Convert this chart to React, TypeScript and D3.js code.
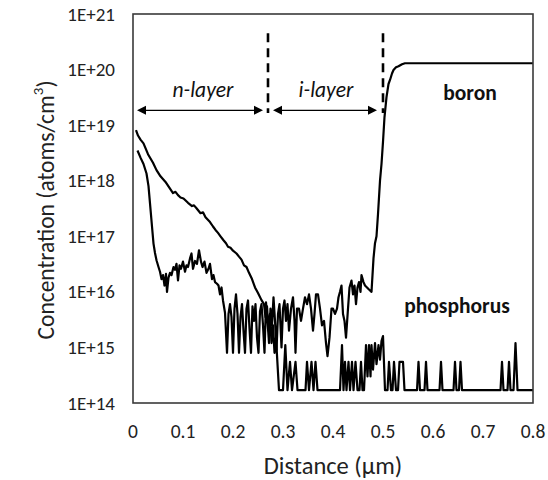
import React from "react";
import * as d3 from "d3";

// ---- data ----
const xTicks = [0, 0.1, 0.2, 0.3, 0.4, 0.5, 0.6, 0.7, 0.8];
const xTickLabels = ["0", "0.1", "0.2", "0.3", "0.4", "0.5", "0.6", "0.7", "0.8"];
const yTicks = [1e14, 1e15, 1e16, 1e17, 1e18, 1e19, 1e20, 1e21];
const yTickLabels = ["1E+14", "1E+15", "1E+16", "1E+17", "1E+18", "1E+19", "1E+20", "1E+21"];

const F = 1.7e14; // detection floor for phosphorus

const phosphorus: [number, number][] = [
  [0.006, 8.1e18], [0.010, 6.5e18], [0.015, 5.5e18], [0.021, 4.7e18], [0.030, 3.0e18],
  [0.040, 2.1e18], [0.047, 1.55e18], [0.055, 1.2e18], [0.065, 9.5e17], [0.074, 7.2e17],
  [0.080, 6.0e17], [0.085, 6.3e17], [0.090, 5.5e17], [0.095, 5.0e17], [0.101, 4.8e17],
  [0.110, 4.0e17], [0.118, 3.5e17], [0.122, 3.6e17], [0.127, 3.2e17], [0.135, 2.6e17],
  [0.140, 2.7e17], [0.145, 2.2e17], [0.154, 1.8e17], [0.160, 1.5e17], [0.165, 1.3e17],
  [0.170, 1.15e17], [0.175, 1.0e17], [0.181, 8.5e16], [0.186, 7.5e16], [0.190, 6.5e16],
  [0.195, 6.2e16], [0.200, 5.5e16], [0.207, 4.9e16], [0.212, 4.3e16], [0.217, 3.8e16],
  [0.222, 3.0e16], [0.227, 2.8e16], [0.232, 2.2e16], [0.238, 1.7e16], [0.244, 1.2e16],
  [0.250, 9.5e15], [0.257, 7.1e15], [0.262, 6.0e15], [0.265, 3.5e15], [0.268, 5.5e15],
  [0.271, 2.0e15], [0.274, 4.0e15], [0.277, 1.2e15], [0.280, 2.5e15], [0.283, 8e14],
  [0.286, 1.5e15], [0.289, 5e14], [0.292, F], [0.300, F], [0.3046, 1.1e15], [0.309, F],
  [0.314, 5.5e14], [0.318, F], [0.325, 5.5e14], [0.329, F], [0.345, F], [0.348, 5.5e14],
  [0.352, F], [0.357, 5.5e14], [0.361, F], [0.365, 5.5e14], [0.369, F], [0.414, F],
  [0.418, 1.1e15], [0.421, F], [0.424, 5.5e14], [0.427, F], [0.431, 5.5e14], [0.434, F],
  [0.438, 5.5e14], [0.441, F], [0.445, 5.5e14], [0.449, F], [0.453, F], [0.456, 5.5e14],
  [0.459, F], [0.462, F], [0.466, 1.1e15], [0.469, 3e14], [0.472, 1.1e15], [0.475, 3e14],
  [0.477, 1.1e15], [0.480, 4e14], [0.484, 1.2e15], [0.487, 5e14], [0.491, 1.1e15],
  [0.494, 6e14], [0.497, 1.3e15], [0.500, 1.6e15], [0.504, F], [0.509, F], [0.512, 5.5e14],
  [0.516, F], [0.519, F], [0.522, 5.5e14], [0.526, F], [0.530, F], [0.533, 5.5e14],
  [0.540, 5.5e14], [0.543, F], [0.568, F], [0.571, 5.5e14], [0.574, F], [0.583, F],
  [0.586, 5.5e14], [0.589, F], [0.613, F], [0.616, 5.5e14], [0.619, F], [0.641, F],
  [0.644, 5.5e14], [0.647, F], [0.652, F], [0.655, 5.5e14], [0.658, F], [0.735, F],
  [0.738, 5.5e14], [0.741, F], [0.749, F], [0.752, 5.5e14], [0.755, F], [0.761, F],
  [0.765, 1.2e15], [0.769, F], [0.800, F],
];

const boron: [number, number][] = [
  [0.009, 3.5e18], [0.015, 2.6e18], [0.021, 2.0e18], [0.027, 1.35e18], [0.031, 8e17],
  [0.034, 3.9e17], [0.038, 1.5e17], [0.041, 7.4e16], [0.044, 5.0e16], [0.047, 3.7e16],
  [0.051, 2.8e16], [0.054, 2.3e16], [0.057, 1.7e16], [0.060, 2.0e16], [0.063, 1.3e16],
  [0.066, 2.1e16], [0.068, 1.0e16], [0.071, 1.8e16], [0.074, 2.2e16], [0.077, 2.0e16],
  [0.081, 2.8e16], [0.084, 2.5e16], [0.087, 3.2e16], [0.090, 1.6e16], [0.093, 3.0e16],
  [0.096, 2.6e16], [0.100, 3.5e16], [0.104, 2.3e16], [0.107, 3.0e16], [0.110, 2.8e16],
  [0.114, 4.0e16], [0.117, 4.9e16], [0.120, 2.6e16], [0.124, 3.6e16], [0.128, 3.2e16],
  [0.132, 5.6e16], [0.136, 3.5e16], [0.139, 2.8e16], [0.143, 3.5e16], [0.147, 2.2e16],
  [0.151, 2.6e16], [0.154, 3.2e16], [0.158, 1.7e16], [0.161, 2.0e16], [0.164, 1.5e16],
  [0.168, 1.4e16], [0.171, 1.3e16], [0.174, 9e15], [0.177, 1.2e16], [0.180, 7e15],
  [0.184, 4.2e15], [0.188, 8e14], [0.191, 4e15], [0.194, 6e15], [0.197, 3.5e15],
  [0.200, 8e14], [0.203, 5e15], [0.206, 9e15], [0.209, 4e15], [0.212, 8e14],
  [0.215, 3.5e15], [0.218, 6e15], [0.221, 2e15], [0.224, 8e14], [0.227, 5e15],
  [0.230, 7e15], [0.233, 2.2e15], [0.236, 8e14], [0.239, 5.5e15], [0.242, 3e15],
  [0.245, 6e15], [0.248, 1.5e15], [0.251, 8e14], [0.254, 4.5e15], [0.257, 6e15],
  [0.260, 2.5e15], [0.263, 8e14], [0.266, 6.5e15], [0.269, 3e15], [0.272, 1.2e15],
  [0.275, 5e15], [0.278, 2.5e15], [0.281, 8e15], [0.284, 3e15], [0.287, 9e14],
  [0.290, 4e15], [0.293, 6e15], [0.297, 1.0e15], [0.300, 5e15], [0.303, 7e15],
  [0.306, 3e15], [0.309, 6e15], [0.312, 2e15], [0.316, 5e15], [0.320, 8e15],
  [0.323, 3e15], [0.325, 8e14], [0.328, 5e15], [0.332, 5e15], [0.336, 3e15],
  [0.340, 5e15], [0.344, 8e15], [0.348, 6e15], [0.352, 9e15], [0.356, 5e15],
  [0.360, 2e15], [0.363, 4e15], [0.366, 9e15], [0.370, 9e15], [0.374, 5e15],
  [0.378, 2.5e15], [0.382, 3e15], [0.386, 1.2e15], [0.389, 7e14], [0.393, 1.5e15],
  [0.397, 5e15], [0.400, 5e15], [0.404, 4e15], [0.408, 5e15], [0.411, 8e15],
  [0.414, 1.0e16], [0.417, 1.3e16], [0.420, 4e15], [0.423, 3e15], [0.426, 1.5e15],
  [0.430, 5e15], [0.433, 1.2e16], [0.437, 1.6e16], [0.440, 9e15], [0.443, 1.3e16],
  [0.446, 6e15], [0.449, 1.2e16], [0.452, 1.5e16], [0.455, 1.0e16], [0.457, 2.0e16],
  [0.461, 1.5e16], [0.464, 1.3e16], [0.468, 1.2e16], [0.472, 1.1e16], [0.477, 1.0e16],
  [0.481, 4.0e16], [0.484, 7.5e16], [0.487, 1.0e17], [0.490, 2.5e17], [0.494, 1.0e18],
  [0.497, 2.0e18], [0.500, 5e18], [0.503, 1.4e19], [0.507, 3.2e19], [0.511, 5.5e19],
  [0.514, 6.5e19], [0.518, 8.5e19], [0.521, 9.8e19], [0.526, 1.1e20], [0.531, 1.15e20],
  [0.538, 1.25e20], [0.544, 1.3e20], [0.600, 1.3e20], [0.700, 1.3e20], [0.800, 1.3e20],
];

// layer annotations (distance in µm, concentration levels)
const layerBoundaries = [0.27, 0.5];
const boundaryTop = 4.5e20;
const boundaryBottom = 1.65e19;
const arrowLevel = 1.85e19;
const layerArrows = [
  { label: "n-layer", from: 0.008, to: 0.26, labelX: 0.14 },
  { label: "i-layer", from: 0.28, to: 0.488, labelX: 0.386 },
];
const labelLevel = 3.2e19;

const seriesLabels = [
  { text: "boron", x: 0.674, level: 2.8e19 },
  { text: "phosphorus", x: 0.648, level: 4.2e15 },
];

const FONT = "Carlito, Calibri, Lato, 'Noto Sans', sans-serif";

export default function App() {
  const W = 548;
  const H = 480;
  const left = 133;
  const right = 533;
  const top = 14;
  const bottom = 403;

  const x = d3.scaleLinear().domain([0, 0.8]).range([left, right]);
  const y = d3.scaleLog().domain([1e14, 1e21]).range([bottom, top]);

  const line = d3
    .line<[number, number]>()
    .x((d) => x(d[0]))
    .y((d) => y(d[1]));

  const arrowHead = (tipX: number, tipY: number, dir: number) => {
    const len = 9;
    const half = 4.5;
    return `M${tipX},${tipY} L${tipX - dir * len},${tipY - half} L${tipX - dir * len},${tipY + half} Z`;
  };

  const ay = y(arrowLevel);

  return (
    <svg
      width={W}
      height={H}
      style={{ position: "absolute", left: 0, top: 0, background: "#fff" }}
      fontFamily={FONT}
    >
      <rect x={0} y={0} width={W} height={H} fill="#fff" />

      {/* data */}
      <path d={line(phosphorus) || ""} fill="none" stroke="#000" strokeWidth={2.2} strokeLinejoin="round" />
      <path d={line(boron) || ""} fill="none" stroke="#000" strokeWidth={2.2} strokeLinejoin="round" />

      {/* plot frame */}
      <rect
        x={left}
        y={top}
        width={right - left}
        height={bottom - top}
        fill="none"
        stroke="#3a3a3a"
        strokeWidth={1.6}
      />

      {/* y tick labels */}
      {yTicks.map((t, i) => (
        <text
          key={"y" + i}
          x={115}
          y={y(t)}
          textAnchor="end"
          dominantBaseline="central"
          fontSize={19}
          fill="#222"
        >
          {yTickLabels[i]}
        </text>
      ))}

      {/* x tick labels */}
      {xTicks.map((t, i) => (
        <text
          key={"x" + i}
          x={x(t)}
          y={431}
          textAnchor="middle"
          dominantBaseline="central"
          fontSize={19.5}
          fill="#222"
        >
          {xTickLabels[i]}
        </text>
      ))}

      {/* axis titles */}
      <text x={x(0.4)} y={466} textAnchor="middle" dominantBaseline="central" fontSize={24.5} fill="#222">
        Distance (μm)
      </text>
      <text
        transform={`translate(46,${210}) rotate(-90)`}
        textAnchor="middle"
        dominantBaseline="central"
        fontSize={23.5}
        fill="#222"
      >
        Concentration (atoms/cm
        <tspan fontSize={15} dy={-8}>3</tspan>
        <tspan dy={8}>)</tspan>
      </text>

      {/* layer boundaries */}
      {layerBoundaries.map((b, i) => (
        <line
          key={"b" + i}
          x1={x(b)}
          x2={x(b)}
          y1={y(boundaryTop)}
          y2={y(boundaryBottom)}
          stroke="#000"
          strokeWidth={2.6}
          strokeDasharray="9,6"
        />
      ))}

      {/* layer arrows */}
      {layerArrows.map((a, i) => (
        <g key={"a" + i}>
          <line x1={x(a.from) + 6} x2={x(a.to) - 6} y1={ay} y2={ay} stroke="#000" strokeWidth={1.3} />
          <path d={arrowHead(x(a.from), ay, -1)} fill="#000" />
          <path d={arrowHead(x(a.to), ay, 1)} fill="#000" />
          <text
            x={x(a.labelX)}
            y={y(labelLevel)}
            textAnchor="middle"
            fontSize={21.5}
            fontStyle="italic"
            fill="#111"
          >
            {a.label}
          </text>
        </g>
      ))}

      {/* series labels */}
      {seriesLabels.map((s, i) => (
        <text
          key={"s" + i}
          x={x(s.x)}
          y={y(s.level)}
          textAnchor="middle"
          fontSize={21.5}
          fontWeight="bold"
          fill="#111"
        >
          {s.text}
        </text>
      ))}
    </svg>
  );
}
